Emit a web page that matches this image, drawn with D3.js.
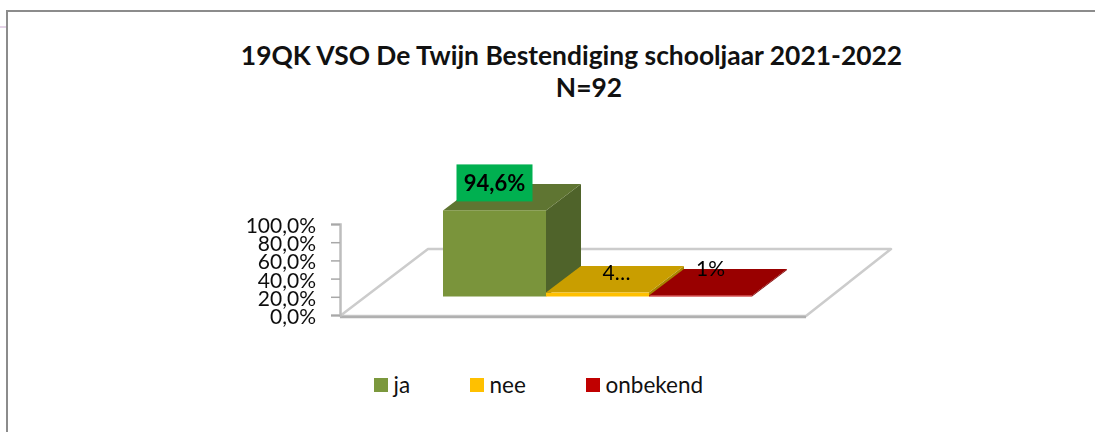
<!DOCTYPE html>
<html>
<head>
<meta charset="utf-8">
<script src="https://d3js.org/d3.v7.min.js"></script>
<style>
    html, body { margin: 0; padding: 0; background: #fff; }
    svg { display: block; font-family: Lato, "Open Sans", sans-serif; }
</style>
</head>
<body>
<div id="chart"></div>
<script>
// values
const categories = ["ja", "nee", "onbekend"];
const values = [94.6, 4.3, 1.1];
const barLabels = ["94,6%", "4…", "1%"];
const yTicks = [0, 20, 40, 60, 80, 100];
const titleLines = ["19QK VSO De Twijn Bestendiging schooljaar 2021-2022", "N=92"];

const frontColors = ["#7a943b", "#ffc000", "#c00000"];
const topColors = ["#5f7430", "#c99e00", "#990000"];
const sideColors = ["#4f6429", "#a88400", "#7d0000"];
const legendColors = ["#7b983d", "#ffc000", "#c00000"];

const width = 1095, height = 432;

const svg = d3.select("#chart").append("svg")
    .attr("width", width)
    .attr("height", height);

// slight blur, the reference is a scaled up bitmap
const defs = svg.append("defs");
defs.append("filter").attr("id", "soft")
    .attr("x", "-5%").attr("y", "-5%").attr("width", "110%").attr("height", "110%")
    .append("feGaussianBlur").attr("stdDeviation", 0.5);

// frame of the chart area
svg.append("path")
    .attr("d", "M1095,11H7V432")
    .attr("fill", "none")
    .attr("stroke", "#8c8c8c")
    .attr("stroke-width", 2);
svg.append("line")
    .attr("x1", 0).attr("x2", 6).attr("y1", 27).attr("y2", 27)
    .attr("stroke", "#dcc6e0")
    .attr("stroke-width", 1.5);

// title
svg.append("text")
    .attr("text-anchor", "middle")
    .attr("font-size", 26.4)
    .attr("font-weight", 700)
    .attr("fill", "#111")
    .selectAll("tspan")
    .data(titleLines)
    .join("tspan")
    .attr("x", (d, i) => i === 0 ? 571.5 : 589)
    .attr("y", (d, i) => 65 + i * 32)
    .text(d => d);

// scales
const y = d3.scaleLinear().domain([0, 100]).range([315, 224]);
const x = d3.scaleBand().domain(categories).range([443, 752]);

// oblique depth of the bars and the floor
const barDepth = {dx: 35, dy: -26.5};
const baseY = 296.5;
const floor = {x0: 340, x1: 806, y: 316, dx: 85, dy: -67};

const plot = svg.append("g").attr("filter", "url(#soft)");

// floor outline
const floorPoints = [
    [floor.x0, floor.y],
    [floor.x1, floor.y],
    [floor.x1 + floor.dx, floor.y + floor.dy],
    [floor.x0 + floor.dx + 3, floor.y + floor.dy]
];
plot.append("polygon")
    .attr("points", floorPoints.join(" "))
    .attr("fill", "#fff")
    .attr("stroke", "#cccccc")
    .attr("stroke-width", 2.5)
    .attr("stroke-linejoin", "round");
plot.append("line")
    .attr("x1", floor.x0).attr("x2", floor.x1)
    .attr("y1", floor.y + 1).attr("y2", floor.y + 1)
    .attr("stroke", "#b0b0b0")
    .attr("stroke-width", 2.5);

// y axis
const yAxis = d3.axisLeft(y)
    .tickValues(yTicks)
    .tickFormat(d => d3.format(".1f")(d).replace(".", ",") + "%")
    .tickSize(9)
    .tickPadding(15);

const axisG = plot.append("g")
    .attr("transform", "translate(340,0)")
    .call(yAxis);
axisG.select(".domain")
    .attr("stroke", "#bdbdbd")
    .attr("stroke-width", 2.5);
axisG.selectAll(".tick line")
    .attr("stroke", "#a8a8a8")
    .attr("stroke-width", 1.5);
axisG.selectAll(".tick text")
    .attr("dy", "0.4em")
    .attr("font-family", "Lato, 'Open Sans', sans-serif")
    .attr("font-size", 21)
    .attr("fill", "#111");

// bars, drawn left to right so each one covers the side of the previous one
const barH = d => y(0) - y(d);
const bw = x.bandwidth();

const bars = plot.selectAll("g.bar")
    .data(categories)
    .join("g")
    .attr("class", "bar");

bars.append("polygon")
    .attr("fill", (d, i) => sideColors[i])
    .attr("points", (d, i) => {
        const xr = x(d) + bw, top = baseY - barH(values[i]);
        return [[xr, top], [xr + barDepth.dx, top + barDepth.dy],
            [xr + barDepth.dx, baseY + barDepth.dy], [xr, baseY]].join(" ");
    });
bars.append("polygon")
    .attr("fill", (d, i) => topColors[i])
    .attr("points", (d, i) => {
        const xl = x(d), top = baseY - barH(values[i]);
        return [[xl, top], [xl + bw, top],
            [xl + bw + barDepth.dx, top + barDepth.dy], [xl + barDepth.dx, top + barDepth.dy]].join(" ");
    });
bars.append("rect")
    .attr("fill", (d, i) => frontColors[i])
    .attr("x", d => x(d))
    .attr("width", bw)
    .attr("y", (d, i) => baseY - barH(values[i]))
    .attr("height", (d, i) => barH(values[i]));

// data labels
const labelShift = [[0, -27], [19, -20], [10, -27]];
const labelPos = i => {
    const d = categories[i];
    return [x(d) + bw / 2 + labelShift[i][0], baseY - barH(values[i]) + labelShift[i][1]];
};

svg.append("rect")
    .attr("x", labelPos(0)[0] - 38)
    .attr("y", labelPos(0)[1] - 19)
    .attr("width", 76)
    .attr("height", 37)
    .attr("fill", "#00b050");

svg.selectAll("text.bar-label")
    .data(barLabels)
    .join("text")
    .attr("class", "bar-label")
    .attr("x", (d, i) => labelPos(i)[0])
    .attr("y", (d, i) => labelPos(i)[1])
    .attr("dy", "0.35em")
    .attr("text-anchor", "middle")
    .attr("font-size", (d, i) => i === 0 ? 22 : 21)
    .attr("font-weight", (d, i) => i === 0 ? 700 : 400)
    .attr("fill", "#000")
    .text(d => d);

// legend
const legendX = d3.scaleOrdinal().domain(categories).range([374, 470, 586]);

const legend = svg.selectAll("g.legend")
    .data(categories)
    .join("g")
    .attr("class", "legend")
    .attr("transform", d => "translate(" + legendX(d) + ",378)");

legend.append("rect")
    .attr("width", 14)
    .attr("height", 14)
    .attr("fill", (d, i) => legendColors[i]);

legend.append("text")
    .attr("x", 19.5)
    .attr("y", 14.5)
    .attr("font-size", 22.5)
    .attr("fill", "#111")
    .text(d => d);
</script>
</body>
</html>
